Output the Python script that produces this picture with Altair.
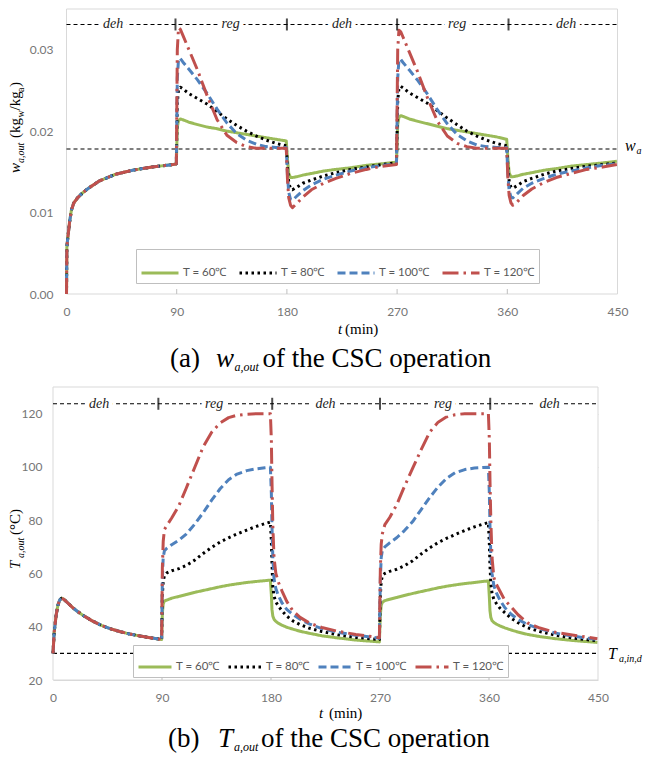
import altair as alt
import pandas as pd

# ---------------- shared ----------------
series = ["T = 60℃", "T = 80℃", "T = 100℃", "T = 120℃"]
colors = ["#9BBB59", "#000000", "#4F81BD", "#C0504D"]
dashes = [[1, 0], [2.5, 3.5], [8, 4], [16, 5, 2.5, 5]]
x_ticks = [0, 90, 180, 270, 360, 450]
axis_tick_t = [90, 180, 270, 360]
phase_labels = ["deh", "reg", "deh", "reg", "deh"]

# ---------------- (a) w_a,out ----------------
w_t_first = [0, 0.3, 1, 2.5, 4, 6, 9, 13, 18, 27, 40, 54, 70, 87, 89.7]
w_first = [0.000, 0.0058, 0.0068, 0.0088, 0.0103, 0.0112, 0.0118, 0.0124, 0.0130,
           0.0139, 0.0147, 0.0152, 0.0156, 0.0159, 0.0160]
w_tau_reg = [0.5, 1.5, 3, 5, 10, 17, 25, 33, 41, 49, 57, 65, 73, 81, 89.5]
w_tau_deh = [0.5, 1.5, 3, 4.5, 8, 13, 20, 30, 40, 52, 65, 78, 89.5]
w_reg1 = [
    [0.0205, 0.0213, 0.0215, 0.0214, 0.0211, 0.0208, 0.0205, 0.0203, 0.0200, 0.0198, 0.0196, 0.0194, 0.0192, 0.0190, 0.0188],
    [0.0235, 0.0252, 0.0254, 0.0252, 0.0246, 0.0240, 0.0233, 0.0224, 0.0215, 0.0207, 0.0200, 0.0194, 0.0189, 0.0185, 0.0182],
    [0.0265, 0.0289, 0.0289, 0.0285, 0.0276, 0.0263, 0.0246, 0.0227, 0.0210, 0.0197, 0.0189, 0.0184, 0.0181, 0.0180, 0.0180],
    [0.0300, 0.0327, 0.0325, 0.0318, 0.0300, 0.0275, 0.0243, 0.0214, 0.0195, 0.0186, 0.0181, 0.0179, 0.0179, 0.0179, 0.0179],
]
w_deh2 = [
    [0.0165, 0.0148, 0.0143, 0.0143, 0.0144, 0.0146, 0.0148, 0.0151, 0.0153, 0.0155, 0.0158, 0.0160, 0.0162],
    [0.0155, 0.0137, 0.0129, 0.0128, 0.0131, 0.0136, 0.0140, 0.0145, 0.0149, 0.0153, 0.0156, 0.0159, 0.0161],
    [0.0145, 0.0125, 0.0116, 0.0115, 0.0120, 0.0127, 0.0134, 0.0141, 0.0146, 0.0151, 0.0155, 0.0158, 0.0160],
    [0.0140, 0.0118, 0.0109, 0.0106, 0.0111, 0.0119, 0.0128, 0.0136, 0.0142, 0.0148, 0.0153, 0.0157, 0.0159],
]
w_reg2 = [
    [0.0208, 0.0217, 0.0219, 0.0218, 0.0215, 0.0212, 0.0209, 0.0206, 0.0203, 0.0201, 0.0199, 0.0197, 0.0195, 0.0193, 0.0190],
    [0.0237, 0.0253, 0.0255, 0.0253, 0.0247, 0.0241, 0.0234, 0.0225, 0.0216, 0.0208, 0.0200, 0.0194, 0.0189, 0.0185, 0.0182],
    [0.0265, 0.0288, 0.0288, 0.0284, 0.0275, 0.0262, 0.0245, 0.0226, 0.0209, 0.0196, 0.0188, 0.0183, 0.0181, 0.0180, 0.0180],
    [0.0300, 0.0324, 0.0322, 0.0315, 0.0297, 0.0272, 0.0240, 0.0212, 0.0194, 0.0185, 0.0181, 0.0179, 0.0179, 0.0179, 0.0179],
]
w_deh3 = [
    [0.0166, 0.0149, 0.0144, 0.0144, 0.0145, 0.0147, 0.0149, 0.0152, 0.0154, 0.0157, 0.0159, 0.0161, 0.0163],
    [0.0156, 0.0139, 0.0131, 0.0130, 0.0133, 0.0138, 0.0142, 0.0147, 0.0151, 0.0154, 0.0157, 0.0159, 0.0161],
    [0.0147, 0.0127, 0.0119, 0.0118, 0.0123, 0.0130, 0.0136, 0.0142, 0.0147, 0.0151, 0.0155, 0.0158, 0.0160],
    [0.0142, 0.0121, 0.0112, 0.0109, 0.0113, 0.0121, 0.0129, 0.0137, 0.0143, 0.0148, 0.0153, 0.0156, 0.0159],
]
w_y_ticks = [0, 0.01, 0.02, 0.03]
w_in = 0.0178
w_phase_line = 0.0331
w_switch_t = [89, 180, 270, 361]
w_label_t = [38, 134, 225, 319, 408]

# ---------------- (b) T_a,out ----------------
T_t_first = [0, 1, 2.5, 4, 5.5, 7, 9, 12, 16, 20, 25, 32, 40, 47, 55, 63, 72, 80, 89.7]
T_first = [30, 38, 44, 48, 50, 50.7, 50.3, 49, 47.3, 45.8, 44.2, 42.3, 40.5, 39.3, 38.2, 37.3, 36.5, 35.9, 35.2]
T_tau_reg = [0.3, 1, 2, 4, 8, 14, 20, 27, 34, 41, 48, 55, 62, 70, 78, 85, 89.5]
T_tau_deh = [0.3, 0.8, 1.5, 2.5, 4, 6, 9, 13, 18, 24, 32, 42, 55, 70, 89.5]
T_reg1 = [
    [45, 48.5, 49.7, 50.0, 50.7, 51.4, 52.1, 52.9, 53.6, 54.3, 55.0, 55.6, 56.1, 56.6, 57.0, 57.3, 57.5],
    [52, 57, 59.2, 60.2, 61, 61.8, 63, 65, 67.5, 69.8, 71.8, 73.4, 74.8, 76.3, 77.7, 78.7, 79.3],
    [58, 66, 68.5, 69.5, 70.8, 72.5, 74.8, 78.5, 82.8, 87.5, 91.8, 95.2, 97.3, 98.6, 99.3, 99.7, 99.9],
    [62, 72, 76.5, 78, 80.8, 85.5, 92, 99.8, 107.5, 113, 116.5, 118.5, 119.4, 119.8, 120, 120, 120],
]
T_deh2 = [
    [52, 46.5, 44, 42.8, 42, 41.3, 40.6, 39.8, 39.1, 38.3, 37.5, 36.6, 35.8, 35.0, 34.3],
    [72, 64, 55, 51.5, 49.3, 47.8, 46, 44, 42.2, 40.8, 39.4, 38.2, 37, 36, 35.2],
    [90, 78, 66, 58, 54.3, 51.8, 49, 46.5, 44.6, 42.8, 41, 39.3, 37.9, 36.8, 35.7],
    [110, 95, 78, 66, 60, 56.8, 53.5, 49.5, 46.0, 43.5, 41.3, 39.7, 38.3, 37.1, 35.9],
]
T_reg2 = [
    [44.5, 48, 49.2, 49.8, 50.3, 51, 51.7, 52.5, 53.2, 53.9, 54.6, 55.2, 55.7, 56.2, 56.6, 57.0, 57.2],
    [52, 57, 59.2, 60.0, 60.8, 61.6, 62.8, 64.8, 67.3, 69.6, 71.6, 73.2, 74.6, 76.1, 77.5, 78.5, 79.1],
    [58, 66, 68.8, 70, 71.5, 73.5, 76, 79.5, 84, 88.5, 92.5, 95.7, 97.8, 99, 99.6, 99.8, 99.9],
    [62, 71, 75, 78.3, 81, 86, 92.5, 99.5, 106.5, 113, 116.8, 118.8, 119.6, 120, 120, 120, 120],
]
T_deh3 = [
    [51, 46, 43.5, 42.3, 41.6, 41, 40.3, 39.6, 38.8, 38, 37.1, 36.3, 35.5, 34.8, 34.1],
    [71, 63, 56.5, 52.5, 50.3, 48.8, 47, 45.3, 43.3, 41.5, 39.6, 38.2, 36.8, 35.7, 34.7],
    [90, 78, 67, 60, 55.5, 52.8, 50, 47.2, 44.8, 42.7, 40.8, 39.2, 37.6, 36.4, 35.2],
    [110, 95, 80, 66, 58.5, 56, 53.4, 50, 47.6, 44.5, 41.4, 39.5, 37.9, 36.8, 35.5],
]
T_y_ticks = [20, 40, 60, 80, 100, 120]
T_in = 30
T_phase_line = 123.7
T_switch_t = [87, 181, 270, 361]
T_label_t = [38, 133, 225, 322, 410]


def series_frame(t_first, v_first, tau_reg, tau_deh, reg1, deh2, reg2, deh3):
    rows = []
    for i, name in enumerate(series):
        ts, vs = list(t_first), list(v_first)
        for start, tau, block in ((90, tau_reg, reg1), (180, tau_deh, deh2),
                                  (270, tau_reg, reg2), (360, tau_deh, deh3)):
            ts += [start + d for d in tau]
            vs += block[i]
        rows += [{"t": t, "v": v, "series": name} for t, v in zip(ts, vs)]
    return pd.DataFrame(rows)


one = pd.DataFrame({"_": [0]})
SERIF = "Liberation Serif"


def ptext(text, x, y, size, italic=False, angle=0, limit=None):
    kw = dict(text=text, font=SERIF, fontSize=size, fontStyle="italic" if italic else "normal",
              align="left", baseline="alphabetic", color="#000000")
    if angle:
        kw["angle"] = angle
    if limit:
        kw.update(limit=limit, ellipsis=" ")
    return alt.Chart(one).mark_text(**kw).encode(x=alt.value(x), y=alt.value(y))


def panel(df, W, H, x0, ydom, yticks, yfmt, ygrid, ylabpad, ref_vals, phase_y, switch_t,
          label_t, legend_xy, legend_sym, legend_pad, extra, gap_boxes=False):
    x_axis = alt.Axis(values=x_ticks, title=None, labelPadding=12, grid=False, labelFlush=False,
                      domain=False, ticks=False, tickSize=0)
    y_axis = alt.Axis(values=yticks, format=yfmt, title=None, grid=ygrid,
                      labelPadding=ylabpad, domain=False, ticks=False, tickSize=0)
    x_scale = alt.Scale(domain=[0, 450], range=[x0, W], nice=False, zero=False)
    y_scale = alt.Scale(domain=ydom, nice=False, zero=False)
    x_enc = alt.X("t:Q", scale=x_scale, axis=x_axis)
    y_enc = alt.Y("v:Q", scale=y_scale, axis=y_axis)
    legend = alt.Legend(title=None, orient="none", legendX=legend_xy[0], legendY=legend_xy[1],
                        direction="horizontal", columns=4, symbolType="stroke",
                        symbolSize=legend_sym * legend_sym,
                        symbolStrokeWidth=3, strokeColor="#bfbfbf", fillColor="white", padding=4,
                        labelFont="Lato", labelFontSize=11.5, labelColor="#595959",
                        columnPadding=legend_pad, labelOffset=3)
    base = alt.Chart(df).encode(
        x=x_enc, y=y_enc,
        color=alt.Color("series:N", scale=alt.Scale(domain=series, range=colors), legend=legend),
        strokeDash=alt.StrokeDash("series:N", scale=alt.Scale(domain=series, range=dashes), legend=legend),
    )
    layers = []
    frame = pd.DataFrame({"t": [0], "t1": [450], "v": [ydom[0]], "v1": [ydom[1]]})
    layers.append(alt.Chart(frame).mark_rect(fill="white", stroke="#d9d9d9", strokeWidth=1).encode(
        x=x_enc, x2="t1:Q", y=y_enc, y2="v1:Q"))
    if gap_boxes:
        span = (ydom[1] - ydom[0]) / H
        gdf = pd.DataFrame({"t": [t - 12 for t in label_t], "t1": [t + 12 for t in label_t],
                            "v": [yticks[-1] - span for _ in label_t],
                            "v1": [phase_y - 3 * span for _ in label_t]})
        layers.append(alt.Chart(gdf).mark_rect(color="white").encode(
            x=x_enc, x2="t1:Q", y=y_enc, y2="v1:Q"))
    rdf = pd.DataFrame({"v": ref_vals, "t": [0] * len(ref_vals), "t1": [450] * len(ref_vals)})
    layers.append(alt.Chart(rdf).mark_rule(color="black", strokeDash=[4, 3], strokeWidth=1.1).encode(
        x=x_enc, x2="t1:Q", y=y_enc))
    for name in series:
        layers.append(base.transform_filter(alt.datum.series == name).mark_line(
            strokeWidth=3, strokeJoin="round", strokeCap="butt"))
    layers.append(alt.Chart(pd.DataFrame({"t": switch_t, "v": [phase_y] * len(switch_t)})).mark_tick(
        orient="vertical", size=12, thickness=2, color="black").encode(x=x_enc, y=y_enc))
    ldf = pd.DataFrame({"t": label_t, "v": [phase_y] * len(label_t), "label": phase_labels})
    layers.append(alt.Chart(ldf).mark_text(font=SERIF, fontStyle="italic", fontSize=14,
                                           stroke="white", strokeWidth=9, strokeJoin="round",
                                           color="white", baseline="middle").encode(
        x=x_enc, y=y_enc, text="label:N"))
    layers.append(alt.Chart(ldf).mark_text(font=SERIF, fontStyle="italic", fontSize=14,
                                           color="#222222", baseline="middle").encode(
        x=x_enc, y=y_enc, text="label:N"))
    layers.append(alt.Chart(pd.DataFrame({"t": axis_tick_t})).mark_rule(color="#bfbfbf").encode(
        x=x_enc, y=alt.value(H - 5), y2=alt.value(H)))
    layers += extra
    return alt.layer(*layers).properties(width=W, height=H)


# both panels share the same left origin; the upper plot frame starts S px further right
S = 13.5
W1, H1 = 564.5, 285
W2, H2 = 545, 293

df_w = series_frame(w_t_first, w_first, w_tau_reg, w_tau_deh, w_reg1, w_deh2, w_reg2, w_deh3)
df_T = series_frame(T_t_first, T_first, T_tau_reg, T_tau_deh, T_reg1, T_deh2, T_reg2, T_deh3)

extra_top = [
    ptext("w", -33, 164, 15, True, 270),
    ptext("a,out", -29, 154, 10, True, 270),
    ptext("(kg", -33, 129, 15, False, 270),
    ptext("w", -29, 108.5, 10, False, 270),
    ptext("/kg", -33, 101.5, 15, False, 270),
    ptext("a", -29, 83, 10, False, 270),
    ptext(")", -33, 78, 15, False, 270),
    ptext("t", 285, 325, 15, True),
    ptext("(min)", 292, 325, 15),
    ptext("w", 572, 142, 16, True),
    ptext("a,in", 583.5, 145, 10, True, limit=9),
    ptext("(a)", 117, 358, 27),
    ptext("w", 163, 358, 27, True),
    ptext("a,out", 181.5, 362, 12, True),
    ptext("of the CSC operation", 209.5, 358, 27),
]
extra_bottom = [
    ptext("T", -33, 182, 15, True, 270),
    ptext("a,out", -29.5, 171, 10, True, 270),
    ptext("(°C)", -33, 148, 15, False, 270),
    ptext("t", 266, 331, 15, True),
    ptext("(min)", 276, 331, 15),
    ptext("T", 555, 272, 16, True),
    ptext("a,in,deh", 566, 275, 10, True, limit=26),
    ptext("(b)", 115, 360, 27),
    ptext("T", 165, 360, 27, True),
    ptext("a,out", 181, 364, 12, True),
    ptext("of the CSC operation", 208, 360, 27),
]

top = panel(df_w, W1, H1, S, [0, 0.035], w_y_ticks, ".2f", False, 0, [w_in, w_phase_line],
            w_phase_line, w_switch_t, w_label_t, (83, 240), 37, 6, extra_top)
bottom = panel(df_T, W2, H2, 0, [20, 130], T_y_ticks, "d", True, 11, [T_in, T_phase_line],
               T_phase_line, T_switch_t, T_label_t, (80, 258), 33, 2, extra_bottom, gap_boxes=True)

chart = alt.concat(top, bottom, columns=1, spacing=93, bounds="flush",
                   padding={"left": 0, "top": 0, "right": 0, "bottom": 0}).resolve_scale(
    x="independent", y="independent", color="independent", strokeDash="independent"
).resolve_legend(
    color="independent", strokeDash="independent"
).configure_view(
    strokeWidth=0
).configure_axis(
    labelFont="Lato", labelFontSize=12, labelColor="#767676", gridColor="#d9d9d9", gridWidth=1
)

chart.save("out.html", embed_options={"renderer": "svg", "actions": False})
